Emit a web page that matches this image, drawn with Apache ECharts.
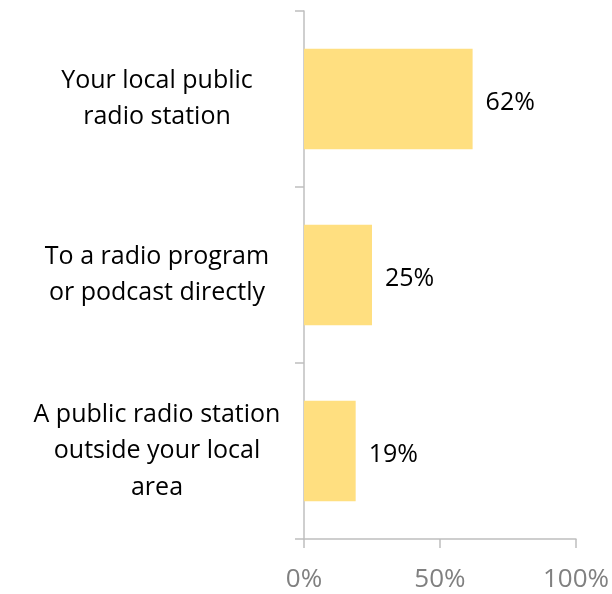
<!DOCTYPE html>
<html>
<head>
<meta charset="utf-8">
<script src="https://cdn.jsdelivr.net/npm/echarts@6/dist/echarts.min.js"></script>
<style>
  html, body { margin: 0; padding: 0; background: #ffffff; }
  #chart { width: 612px; height: 594px; }
</style>
</head>
<body>
<div id="chart"></div>
<script>
// Where listeners give: share of respondents (%)
const categories = [
  'Your local public\nradio station',
  'To a radio program\nor podcast directly',
  'A public radio station\noutside your local\narea'
];
const shares = [62, 25, 19];
const xTicks = [0, 50, 100];

const font = '"Open Sans", Lato, sans-serif';
const axisGray = '#bfbfbf';

const chart = echarts.init(document.getElementById('chart'));
chart.setOption({
  animation: false,
  grid: { left: 304, right: 36, top: 11, bottom: 55 },
  xAxis: {
    type: 'value',
    min: xTicks[0],
    max: xTicks[xTicks.length - 1],
    interval: xTicks[1] - xTicks[0],
    splitLine: { show: false },
    axisLine: { show: true, lineStyle: { color: axisGray, width: 1.5 } },
    axisTick: { show: true, length: 9, lineStyle: { color: axisGray, width: 1.5 } },
    axisLabel: {
      margin: 28,
      color: '#808080',
      fontFamily: font,
      fontSize: 26,
      formatter: v => v + '%'
    }
  },
  yAxis: {
    type: 'category',
    inverse: true,
    data: categories,
    axisLine: { show: true, lineStyle: { color: axisGray, width: 1.5 } },
    axisTick: { show: true, length: 9, lineStyle: { color: axisGray, width: 1.5 } },
    axisLabel: {
      margin: 147,
      align: 'center',
      color: '#000000',
      fontFamily: font,
      fontSize: 25,
      lineHeight: 36.5,
      padding: [7, 0, 0, 0]
    }
  },
  series: [{
    type: 'bar',
    data: shares,
    barCategoryGap: '43%',
    itemStyle: { color: '#ffdf80' },
    label: {
      show: true,
      position: 'right',
      distance: 13,
      offset: [0, 4],
      color: '#000000',
      fontFamily: font,
      fontSize: 25,
      formatter: p => p.value + '%'
    }
  }]
});
</script>
</body>
</html>
